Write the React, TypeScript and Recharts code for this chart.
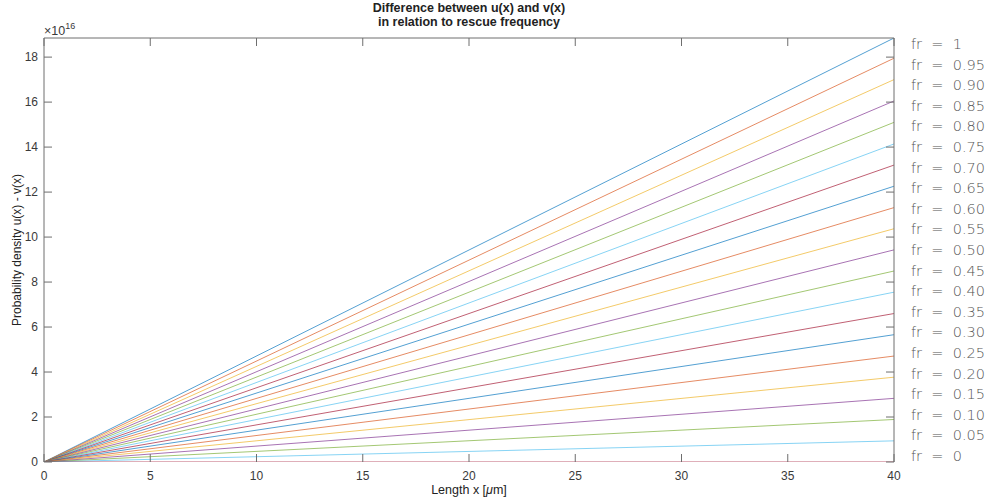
import React from 'react';
import { LineChart, Line, XAxis, YAxis } from 'recharts';

// x positions of the measured lengths (µm)
const lengthX = [0, 40];

// rescue frequency labels, top to bottom
const frLabels = [
  '1', '0.95', '0.90', '0.85', '0.80', '0.75', '0.70', '0.65', '0.60', '0.55', '0.50',
  '0.45', '0.40', '0.35', '0.30', '0.25', '0.20', '0.15', '0.10', '0.05', '0',
];

// u(x) - v(x) in units of 1e16, at x = 0 and x = 40
const densityAtStart = [0, 0, 0, 0, 0, 0, 0, 0, 0, 0, 0, 0, 0, 0, 0, 0, 0, 0, 0, 0, 0];
const densityAtEnd = [
  18.85, 17.95, 17.0, 16.05, 15.1, 14.14, 13.2, 12.26, 11.31, 10.37, 9.43,
  8.49, 7.55, 6.6, 5.66, 4.71, 3.77, 2.83, 1.89, 0.94, 0,
];

const xTicks = [0, 5, 10, 15, 20, 25, 30, 35, 40];
const yTicks = [0, 2, 4, 6, 8, 10, 12, 14, 16, 18];

const palette = ['#0072BD', '#D95319', '#EDB120', '#7E2F8E', '#77AC30', '#4DBEEE', '#A2142F'];

const rows = lengthX.map((x, i) => {
  const row: Record<string, number> = { x };
  frLabels.forEach((_, s) => {
    row['fr' + s] = i === 0 ? densityAtStart[s] : densityAtEnd[s];
  });
  return row;
});

const axisColor = '#6e6e6e';
const textColor = '#3a3a3a';
const font = '"Liberation Sans", Arial, sans-serif';
const TICK = 8;

const BottomTick = (props: any) => {
  const { x, y, payload } = props;
  return (
    <g>
      <line x1={x} y1={y} x2={x} y2={y - TICK} stroke={axisColor} />
      <text x={x} y={y + 18} textAnchor="middle" fill={textColor} fontSize={12} fontFamily={font}>
        {payload.value}
      </text>
    </g>
  );
};

const TopTick = (props: any) => {
  const { x, y } = props;
  return <line x1={x} y1={y} x2={x} y2={y + TICK} stroke={axisColor} />;
};

const LeftTick = (props: any) => {
  const { x, y, payload } = props;
  return (
    <g>
      <line x1={x} y1={y} x2={x + TICK} y2={y} stroke={axisColor} />
      <text x={x - 6} y={y + 4} textAnchor="end" fill={textColor} fontSize={12} fontFamily={font}>
        {payload.value}
      </text>
    </g>
  );
};

const RightTick = (props: any) => {
  const { x, y } = props;
  return <line x1={x} y1={y} x2={x - TICK} y2={y} stroke={axisColor} />;
};

export default function App() {
  return (
    <div style={{ position: 'fixed', left: 0, top: 0, width: 991, height: 504, background: '#fff' }}>
      <LineChart width={991} height={504} data={rows} margin={{ top: 37, right: 96, bottom: 0, left: 0 }}>
        <XAxis
          dataKey="x"
          type="number"
          domain={[0, 40]}
          ticks={xTicks}
          height={42}
          tickSize={0}
          tickMargin={0}
          tickLine={false}
          axisLine={false}
          tick={<BottomTick />}
        />
        <XAxis
          xAxisId="top"
          dataKey="x"
          type="number"
          orientation="top"
          domain={[0, 40]}
          ticks={xTicks}
          height={1}
          tickSize={0}
          tickMargin={0}
          tickLine={false}
          stroke={axisColor}
          tick={<TopTick />}
        />
        <YAxis
          type="number"
          domain={[0, 18.85]}
          ticks={yTicks}
          width={44}
          tickSize={0}
          tickMargin={0}
          tickLine={false}
          stroke={axisColor}
          allowDataOverflow
          tick={<LeftTick />}
        />
        <YAxis
          yAxisId="right"
          orientation="right"
          type="number"
          domain={[0, 18.85]}
          ticks={yTicks}
          width={1}
          tickSize={0}
          tickMargin={0}
          tickLine={false}
          stroke={axisColor}
          allowDataOverflow
          tick={<RightTick />}
        />
        {frLabels.map((fr, s) => (
          <Line
            key={fr}
            dataKey={'fr' + s}
            stroke={palette[s % palette.length]}
            strokeWidth={0.8}
            strokeOpacity={0.85}
            dot={false}
            activeDot={false}
            isAnimationActive={false}
          />
        ))}
      </LineChart>

      {/* title */}
      <div
        style={{
          position: 'absolute', left: 269, width: 400, top: 1, textAlign: 'center',
          fontFamily: font, fontWeight: 'bold', fontSize: 12.5, lineHeight: '14px', color: '#222',
        }}
      >
        Difference between u(x) and v(x)
        <br />
        in relation to rescue frequency
      </div>

      {/* exponent */}
      <div style={{ position: 'absolute', left: 44, top: 22, fontFamily: font, fontSize: 12.5, color: textColor }}>
        ×10<sup style={{ fontSize: 9, position: 'relative', top: -1 }}>16</sup>
      </div>

      {/* y label */}
      <div
        style={{
          position: 'absolute', left: 17 - 150, width: 300, top: 250 - 8, height: 16, lineHeight: '16px',
          textAlign: 'center', transform: 'rotate(-90deg)',
          whiteSpace: 'nowrap', fontFamily: font, fontSize: 12, color: '#222',
        }}
      >
        Probability density u(x) - v(x)
      </div>

      {/* x label */}
      <div
        style={{
          position: 'absolute', left: 369, width: 200, top: 483, textAlign: 'center',
          fontFamily: font, fontSize: 12.5, color: '#222',
        }}
      >
        Length x [<i>μ</i>m]
      </div>

      {/* fr labels */}
      <div style={{ position: 'absolute', left: 911, top: 34 }}>
        {frLabels.map((fr) => (
          <div
            key={fr}
            style={{
              height: 20.6, lineHeight: '20.6px', whiteSpace: 'pre',
              fontFamily: '"DejaVu Sans", sans-serif', fontWeight: 200, fontSize: 14.5, color: '#555',
            }}
          >
            {'fr  =  ' + fr}
          </div>
        ))}
      </div>
    </div>
  );
}
